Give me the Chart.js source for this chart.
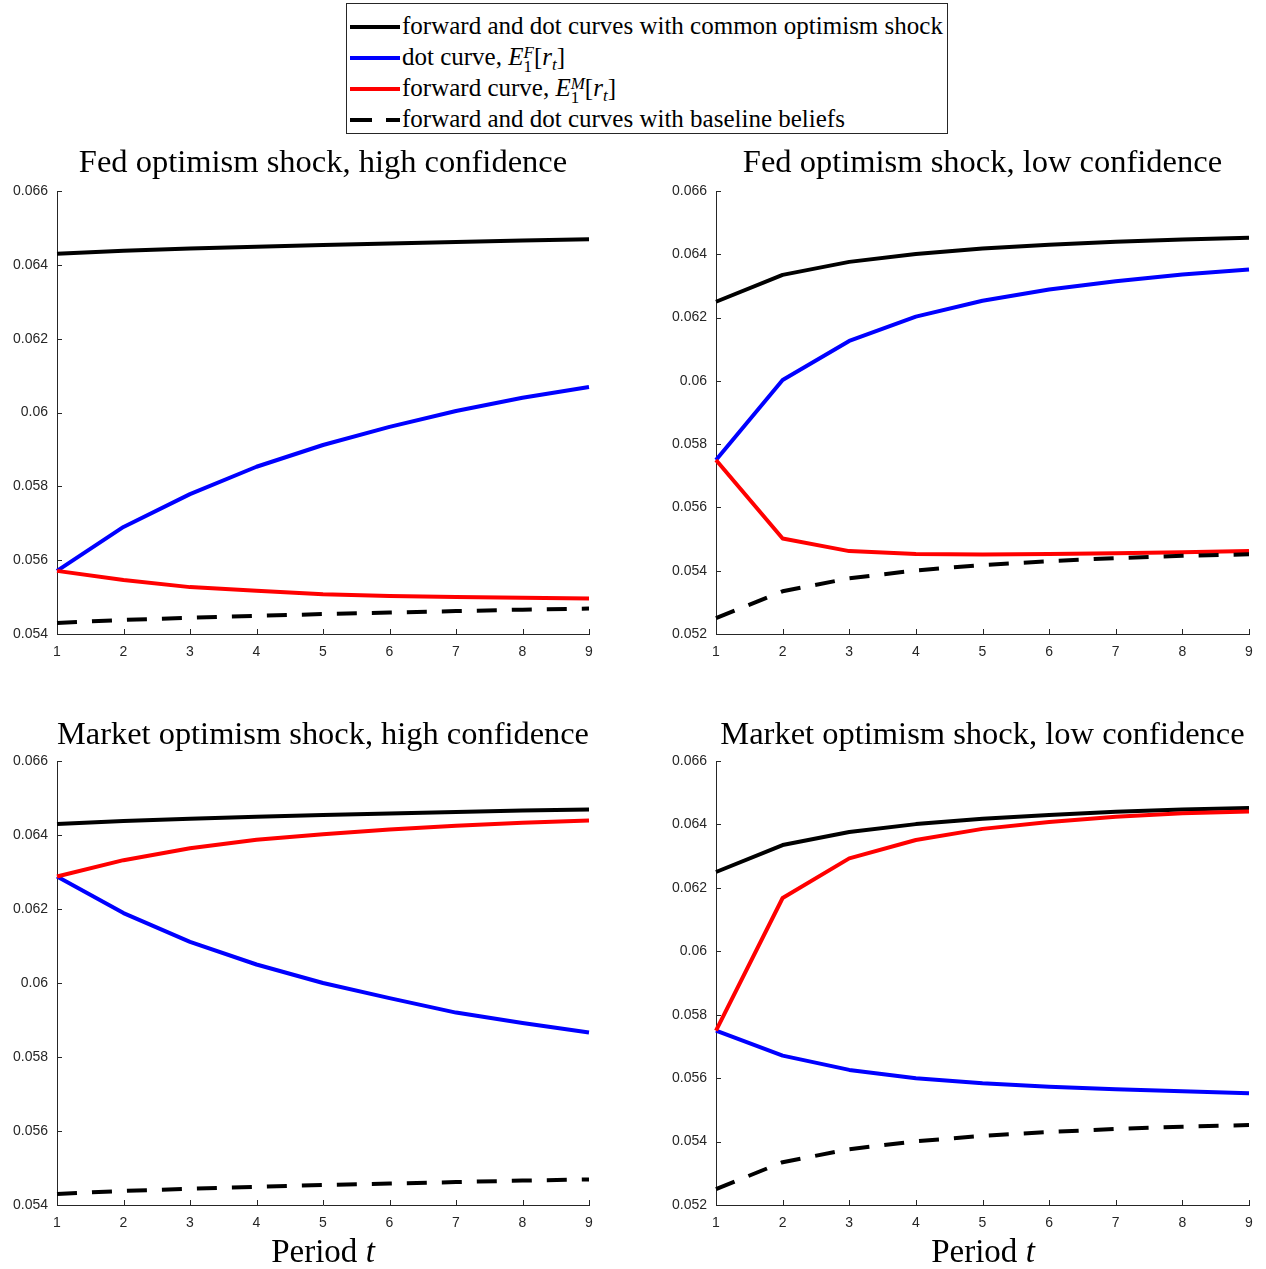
<!DOCTYPE html>
<html>
<head>
<meta charset="utf-8">
<script src="https://cdn.jsdelivr.net/npm/chart.js@4.4.1/dist/chart.umd.min.js"></script>
<style>
  html, body { margin: 0; padding: 0; background: #fff; }
  body { width: 1266px; height: 1269px; position: relative; overflow: hidden; }
  .cv { position: absolute; }
  #legend { position: absolute; left: 346px; top: 3px; width: 600px; height: 129px;
            border: 1px solid #262626; background: #fff;
            font-family: "Liberation Serif", "Times New Roman", serif; font-size: 25px; color: #000; }
  .row { position: absolute; left: 3px; height: 31px; line-height: 31px; white-space: nowrap; }
  .sample { display: inline-block; width: 50px; height: 4px; vertical-align: middle; margin-right: 2px; position: relative; top: -1px; }
  .dash { display: inline-block; height: 4px; background: #000; vertical-align: middle; position: relative; top: -1px; }
  .ss { display: inline-block; vertical-align: -0.42em; line-height: 0.85; font-size: 0.68em; text-align: left; }
  .ss span { display: block; }
  .sub { font-size: 0.68em; vertical-align: -0.3em; }
  .xlab { position: absolute; top: 1231px; width: 200px; text-align: center;
          font-family: "Liberation Serif", "Times New Roman", serif; font-size: 33px; line-height: 40px; color: #000; }
</style>
</head>
<body>
<div id="legend">
  <div class="row" style="top:6px"><span class="sample" style="background:#000"></span>forward and dot curves with common optimism shock</div>
  <div class="row" style="top:37px"><span class="sample" style="background:#0000ff"></span>dot curve, <i>E</i><span class="ss"><span><i>F</i></span><span>1</span></span>[<i>r</i><span class="sub"><i>t</i></span>]</div>
  <div class="row" style="top:68px"><span class="sample" style="background:#ff0000"></span>forward curve, <i>E</i><span class="ss"><span><i>M</i></span><span>1</span></span>[<i>r</i><span class="sub"><i>t</i></span>]</div>
  <div class="row" style="top:99px"><span class="dash" style="width:22px"></span><span style="display:inline-block;width:14px"></span><span class="dash" style="width:14px;margin-right:2px"></span>forward and dot curves with baseline beliefs</div>
</div>

<canvas id="c1" class="cv" width="633" height="530" style="left:0px;top:140px;width:633px;height:530px"></canvas>
<canvas id="c2" class="cv" width="633" height="530" style="left:633px;top:140px;width:633px;height:530px"></canvas>
<canvas id="c3" class="cv" width="633" height="530" style="left:0px;top:710px;width:633px;height:530px"></canvas>
<canvas id="c4" class="cv" width="633" height="530" style="left:633px;top:710px;width:633px;height:530px"></canvas>

<div class="xlab" style="left:223px">Period <i>t</i></div>
<div class="xlab" style="left:883px">Period <i>t</i></div>

<script>
// ---------- data ----------
const periods = ['1', '2', '3', '4', '5', '6', '7', '8', '9'];

// common optimism shock and baseline (high confidence panels)
const highCommon   = [0.0643, 0.06438, 0.06444, 0.06449, 0.06454, 0.06458, 0.06462, 0.06466, 0.06469];
const highBaseline = [0.0543, 0.05438, 0.05444, 0.05449, 0.05454, 0.05458, 0.05462, 0.05466, 0.05469];
// common optimism shock and baseline (low confidence panels)
const lowCommon    = [0.0625, 0.06335, 0.06376, 0.06401, 0.06418, 0.0643, 0.0644, 0.06447, 0.06452];
const lowBaseline  = [0.0525, 0.05335, 0.05376, 0.05401, 0.05418, 0.0543, 0.0544, 0.05447, 0.05452];

// Fed optimism shock
const fedHighDot     = [0.05571, 0.0569, 0.05779, 0.05853, 0.05912, 0.05961, 0.06004, 0.0604, 0.06069];
const fedHighForward = [0.05571, 0.05546, 0.05527, 0.05517, 0.05508, 0.05503, 0.055, 0.05498, 0.05496];
const fedLowDot      = [0.0575, 0.06003, 0.06126, 0.06203, 0.06253, 0.06289, 0.06315, 0.06336, 0.06352];
const fedLowForward  = [0.0575, 0.05502, 0.05462, 0.05453, 0.05451, 0.05453, 0.05455, 0.05458, 0.05462];

// Market optimism shock
const mktHighDot     = [0.06288, 0.06189, 0.06111, 0.0605, 0.06, 0.05959, 0.0592, 0.05892, 0.05866];
const mktHighForward = [0.06288, 0.06332, 0.06364, 0.06387, 0.06402, 0.06415, 0.06425, 0.06433, 0.06439];
const mktLowDot      = [0.0575, 0.05671, 0.05626, 0.056, 0.05584, 0.05573, 0.05565, 0.05559, 0.05552];
const mktLowForward  = [0.0575, 0.06168, 0.06293, 0.06351, 0.06386, 0.06408, 0.06424, 0.06435, 0.06441];

const titles = [
  'Fed optimism shock, high confidence',
  'Fed optimism shock, low confidence',
  'Market optimism shock, high confidence',
  'Market optimism shock, low confidence'
];
const yMinHigh = 0.054, yMinLow = 0.052, yMax = 0.066, yStep = 0.002;

// ---------- drawing ----------
const AXIS = '#262626';
const inwardTicks = {
  id: 'inwardTicks',
  afterDraw(chart) {
    const ctx = chart.ctx, a = chart.chartArea;
    const len = 5;
    ctx.save();
    ctx.strokeStyle = AXIS;
    ctx.lineWidth = 1;
    ctx.beginPath();
    const xs = chart.scales.x, ys = chart.scales.y;
    xs.ticks.forEach((t, i) => {
      const px = Math.round(xs.getPixelForTick(i)) + 0.5;
      ctx.moveTo(px, a.bottom); ctx.lineTo(px, a.bottom - len);
    });
    ys.ticks.forEach((t, i) => {
      const py = Math.round(ys.getPixelForTick(i)) + 0.5;
      ctx.moveTo(a.left, py); ctx.lineTo(a.left + len, py);
    });
    ctx.stroke();
    ctx.restore();
  }
};

function makeChart(id, title, common, dot, forward, baseline, yMin, yAxisWidth, padRight, padBottom, titlePad) {
  const lw = 4;
  new Chart(document.getElementById(id), {
    type: 'line',
    data: {
      labels: periods,
      datasets: [
        { data: baseline, borderColor: '#000', borderDash: [20, 15], borderWidth: lw },
        { data: forward, borderColor: '#ff0000', borderWidth: lw },
        { data: dot, borderColor: '#0000ff', borderWidth: lw },
        { data: common, borderColor: '#000', borderWidth: lw }
      ]
    },
    options: {
      responsive: false,
      animation: false,
      events: [],
      elements: { point: { radius: 0 }, line: { tension: 0, borderCapStyle: 'butt', borderJoinStyle: 'round' } },
      layout: { padding: { left: 0, right: padRight, top: 0, bottom: padBottom } },
      plugins: {
        legend: { display: false },
        tooltip: { enabled: false },
        title: {
          display: true, text: title, fullSize: false, color: '#000',
          font: { family: '"Liberation Serif", "Times New Roman", serif', size: 32.5, weight: 'normal', lineHeight: 1.2 },
          padding: titlePad
        }
      },
      scales: {
        x: {
          type: 'category', offset: false,
          grid: { display: false, drawTicks: false },
          border: { display: true, color: AXIS, width: 1 },
          ticks: { color: AXIS, padding: 10, autoSkip: false, maxRotation: 0,
                   font: { family: '"Liberation Sans", Arial, sans-serif', size: 14 } },
          afterFit(s) { s.height = 30; }
        },
        y: {
          type: 'linear', min: yMin, max: yMax,
          grid: { display: false, drawTicks: false },
          border: { display: true, color: AXIS, width: 1 },
          ticks: { stepSize: yStep, color: AXIS, padding: 9, autoSkip: false,
                   font: { family: '"Liberation Sans", Arial, sans-serif', size: 14 },
                   callback: v => String(+v.toFixed(3)) },
          afterFit(s) { s.width = yAxisWidth; }
        }
      }
    },
    plugins: [inwardTicks]
  });
}

makeChart('c1', titles[0], highCommon, fedHighDot, fedHighForward, highBaseline, yMinHigh, 57, 44, 6, { top: 3.5, bottom: 8.5 });
makeChart('c2', titles[1], lowCommon, fedLowDot, fedLowForward, lowBaseline, yMinLow, 83, 17, 6, { top: 3.5, bottom: 8.5 });
makeChart('c3', titles[2], highCommon, mktHighDot, mktHighForward, highBaseline, yMinHigh, 57, 44, 5, { top: 5.5, bottom: 6.5 });
makeChart('c4', titles[3], lowCommon, mktLowDot, mktLowForward, lowBaseline, yMinLow, 83, 17, 5, { top: 5.5, bottom: 6.5 });
</script>
</body>
</html>
